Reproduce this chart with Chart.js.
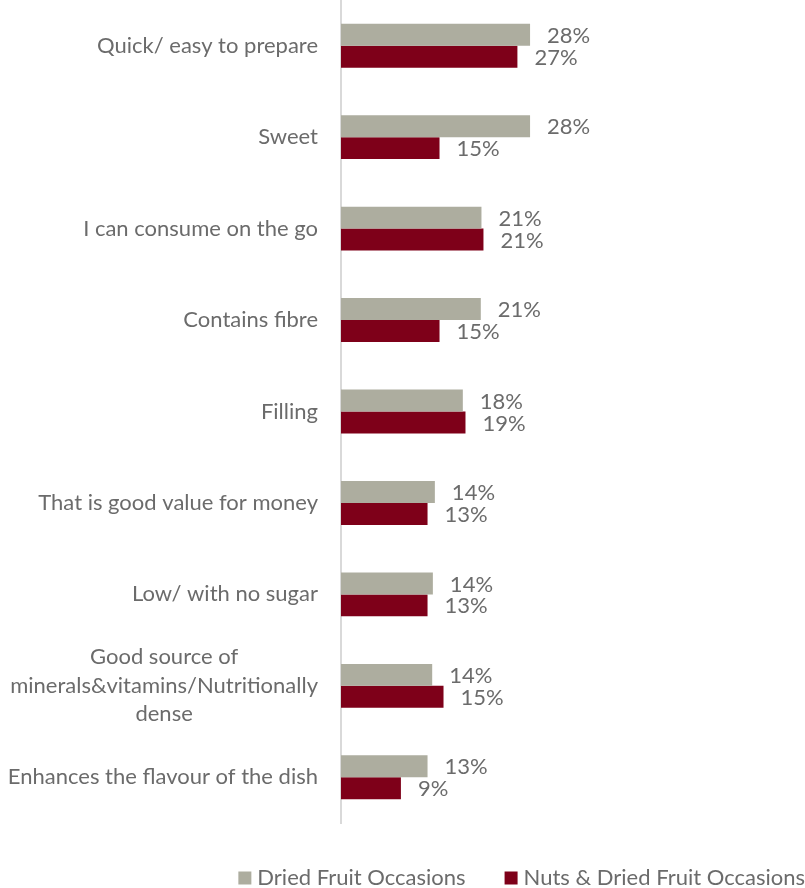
<!DOCTYPE html>
<html lang="en">
<head>
  <meta charset="UTF-8" />
  <title>Reasons for choosing - Dried Fruit vs Nuts & Dried Fruit</title>
  <script src="https://cdn.jsdelivr.net/npm/chart.js"></script>
  <style>
    html, body {
      margin: 0;
      padding: 0;
      background: #ffffff;
    }
    #wrap {
      width: 805px;
      height: 888px;
    }
  </style>
</head>
<body>
  <div id="wrap"><canvas id="reasonsChart"></canvas></div>

  <script>
    // categories (multi-line ones split into arrays)
    const categories = [
      'Quick/ easy to prepare',
      'Sweet',
      'I can consume on the go',
      'Contains fibre',
      'Filling',
      'That is good value for money',
      'Low/ with no sugar',
      ['Good source of', 'minerals&vitamins/Nutritionally', 'dense'],
      'Enhances the flavour of the dish'
    ];

    const seriesNames = ['Dried Fruit Occasions', 'Nuts & Dried Fruit Occasions'];

    // % values
    const driedFruit = [28.4, 28.4, 21.1, 21.0, 18.3, 14.1, 13.8, 13.7, 13.0];
    const nutsDriedFruit = [26.5, 14.8, 21.4, 14.8, 18.7, 13.0, 13.0, 15.4, 9.0];

    const GRAY = '#adad9f';
    const RED = '#7e0019';
    const TEXT = '#6b6b6b';
    const FONT = 'Lato, "Open Sans", sans-serif';

    // category labels drawn on the left, block right aligned, lines centered
    const categoryLabels = {
      id: 'categoryLabels',
      afterDraw(chart) {
        const ctx = chart.ctx;
        const y = chart.scales.y;
        const right = y.right - 23;
        const lineH = 28.5;
        ctx.save();
        ctx.font = '22px ' + FONT;
        ctx.fillStyle = TEXT;
        ctx.textAlign = 'center';
        ctx.textBaseline = 'middle';
        categories.forEach((c, i) => {
          const lines = Array.isArray(c) ? c : [c];
          const w = Math.max(...lines.map(l => ctx.measureText(l).width));
          const cx = right - w / 2;
          const cy = y.getPixelForValue(i);
          lines.forEach((l, k) => {
            ctx.fillText(l, cx, cy + (k - (lines.length - 1) / 2) * lineH);
          });
        });
        ctx.restore();
      }
    };

    // value labels at the end of every bar
    const valueLabels = {
      id: 'valueLabels',
      afterDatasetsDraw(chart) {
        const ctx = chart.ctx;
        ctx.save();
        ctx.font = '22px ' + FONT;
        ctx.fillStyle = TEXT;
        ctx.textAlign = 'left';
        ctx.textBaseline = 'middle';
        chart.data.datasets.forEach((ds, di) => {
          chart.getDatasetMeta(di).data.forEach((bar, i) => {
            ctx.fillText(Math.round(ds.data[i]) + '%', bar.x + 17, bar.y + 1);
          });
        });
        ctx.restore();
      }
    };

    // legend along the bottom, right aligned, wider gap between items
    const bottomLegend = {
      id: 'bottomLegend',
      afterDraw(chart) {
        const ctx = chart.ctx;
        const box = 13, gapText = 6, gapItem = 39;
        const cy = chart.height - 10;
        ctx.save();
        ctx.font = '22px ' + FONT;
        ctx.textAlign = 'left';
        ctx.textBaseline = 'middle';
        const ds = chart.data.datasets;
        const widths = ds.map(d => box + gapText + ctx.measureText(d.label).width);
        const total = widths.reduce((a, b) => a + b, 0) + gapItem * (ds.length - 1);
        let x = chart.width - total;
        ds.forEach((d, i) => {
          ctx.fillStyle = d.backgroundColor;
          ctx.fillRect(x, cy - box / 2, box, box);
          ctx.fillStyle = TEXT;
          ctx.fillText(d.label, x + box + gapText, cy);
          x += widths[i] + gapItem;
        });
        ctx.restore();
      }
    };

    new Chart(document.getElementById('reasonsChart'), {
      type: 'bar',
      data: {
        labels: categories,
        datasets: [{
          label: seriesNames[0],
          data: driedFruit,
          backgroundColor: GRAY,
          categoryPercentage: 0.48,
          barPercentage: 1.0
        }, {
          label: seriesNames[1],
          data: nutsDriedFruit,
          backgroundColor: RED,
          categoryPercentage: 0.48,
          barPercentage: 1.0
        }]
      },
      options: {
        indexAxis: 'y',
        responsive: true,
        maintainAspectRatio: false,
        animation: false,
        layout: { padding: 0 },
        scales: {
          x: {
            min: 0,
            max: 69.7,
            display: true,
            grid: { display: false },
            border: { display: false },
            ticks: { display: false },
            afterFit(scale) { scale.height = 65; }
          },
          y: {
            grid: { display: false },
            border: { display: true, color: '#d9d9d9', width: 2 },
            ticks: { display: false },
            afterFit(scale) { scale.width = 341; }
          }
        },
        plugins: {
          legend: { display: false },
          tooltip: { enabled: false }
        }
      },
      plugins: [categoryLabels, valueLabels, bottomLegend]
    });
  </script>
</body>
</html>
